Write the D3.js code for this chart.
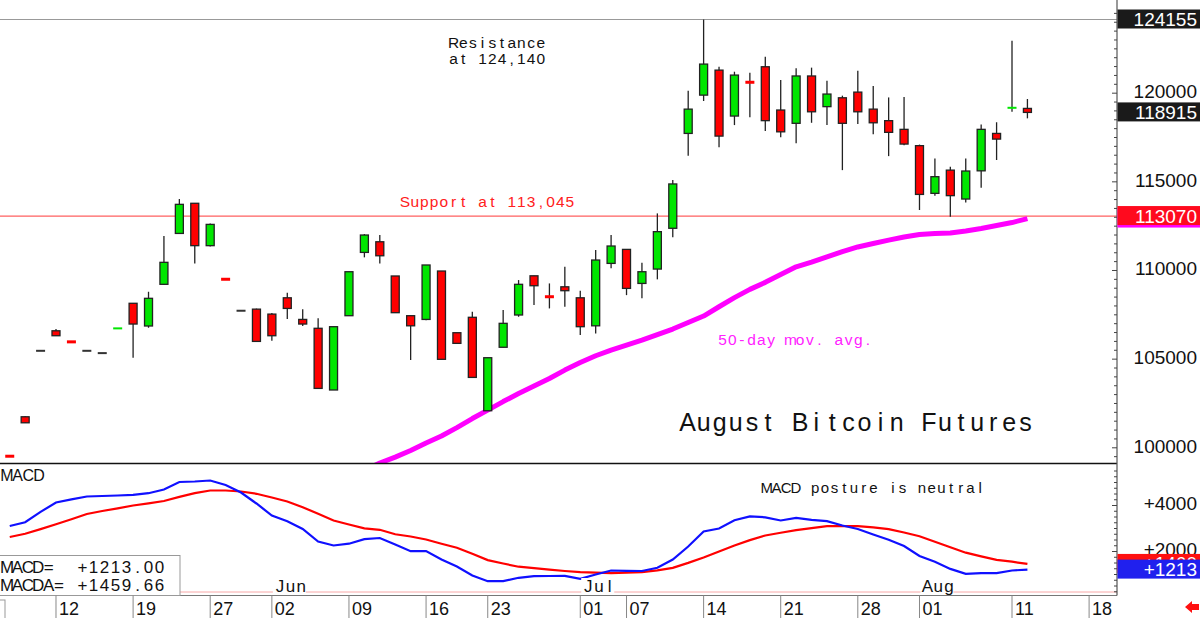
<!DOCTYPE html>
<html>
<head>
<meta charset="utf-8">
<script src="https://cdn.jsdelivr.net/npm/d3@7"></script>
<style>
	body{margin:0;background:#fff;}
	svg{display:block;font-family:"Liberation Sans",Arial,sans-serif;}
</style>
</head>
<body>
<svg id="chart" width="1200" height="618"></svg>
<script>
// trading days shown (2025), one candle each
const dates = [
	'05-07','05-08','05-09','05-12','05-13','05-14','05-15','05-16','05-19','05-20','05-21','05-22','05-23','05-27','05-28','05-29','05-30',
	'06-02','06-03','06-04','06-05','06-06','06-09','06-10','06-11','06-12','06-13','06-16','06-17','06-18','06-20','06-23','06-24','06-25','06-26','06-27','06-30',
	'07-01','07-02','07-03','07-07','07-08','07-09','07-10','07-11','07-14','07-15','07-16','07-17','07-18','07-21','07-22','07-23','07-24','07-25','07-28','07-29','07-30','07-31',
	'08-01','08-04','08-05','08-06','08-07','08-08','08-11','08-12'
];
const futureDates = ['08-13','08-14','08-15','08-18'];

const open = [99550,101750,105470,106600,106000,105470,105340,106720,108150,106870,109220,112090,113790,111400,109530,107730,107820,
	107540,108460,107240,106740,103260,107450,111020,111620,109690,107450,107240,109970,106490,107360,102090,105670,107490,109700,108540,109080,
	108460,106880,110400,111190,109270,110080,112380,117730,119890,121300,118710,120630,121490,119050,118300,120970,119240,119740,120060,119100,118450,117960,
	117040,114350,115660,114030,115620,117730,119160,119140];
const high = [99550,101780,105470,106700,106000,105470,105340,106750,108150,108800,111940,114030,113790,112650,109530,107730,107850,
	107600,108740,107810,107300,106830,109930,112050,112000,109690,107450,110310,109970,106490,107670,105080,107770,109460,109700,109270,110210,
	108860,111150,112000,111190,110440,113220,115100,120140,124155,121490,121210,121150,122050,120740,121400,121440,120700,119860,121270,120400,119760,119780,
	117100,116320,115850,116320,118240,118360,122960,119670];
const low = [99500,101400,105470,106320,105950,105470,105340,106720,105080,106770,109200,112090,110400,111350,109480,107730,106000,
	106040,107260,106870,103350,103260,107450,110740,110400,107620,104950,107200,104990,105890,103970,102090,105670,107390,108050,107860,107950,
	106360,106450,110120,108610,108430,109500,111870,116470,119560,116950,118200,118640,117860,117510,117170,118330,118200,115660,118260,117680,116450,117070,
	113410,114210,113030,113840,114670,116230,118950,118580];
const close = [99500,101410,105470,106320,105950,105470,105340,106750,106980,108430,110460,113730,111400,112600,109480,107730,106000,
	106320,107860,106980,103350,106830,109930,112000,110830,107620,106880,110310,104990,105890,103970,105080,107020,109220,109140,108500,108860,
	106830,110590,111380,108990,109930,112190,114880,119100,121640,117580,121020,120600,118450,117820,120970,118950,119950,118300,118950,118330,117790,117130,
	114290,115290,114220,115610,117960,117410,119190,118915];

// 50-day moving average (earlier values sit below the panel)
const ma50 = [null,null,null,null,null,null,null,null,null,null,null,null,null,null,null,null,null,
	null,null,null,null,null,null,98744,99139,99477,99844,100267,100662,101141,101649,102128,102607,103059,103482,103905,104384,
	104807,105191,105512,105794,106076,106387,106697,107063,107430,107955,108468,108936,109331,109771,110205,110476,110769,111062,111327,111519,111711,111891,
	112027,112083,112111,112224,112365,112534,112703,112929];

const macd = [3109,3274,3722,4130,4265,4391,4413,4435,4465,4535,4696,5022,5043,5087,4891,4565,4087,
	3565,3317,2978,2435,2261,2339,2535,2587,2304,2013,2022,1652,1348,957,709,709,857,926,935,943,
	813,1000,1174,1157,1152,1291,1652,2217,2870,3000,3357,3530,3487,3348,3465,3374,3317,3130,2978,2739,2513,2239,
	1804,1552,1243,1030,1057,1057,1174,1213.00];
const macdSignal = [2630,2770,2974,3187,3404,3630,3761,3878,4000,4096,4196,4374,4535,4652,4652,4609,4509,
	4348,4174,3926,3639,3348,3174,3009,2943,2748,2652,2522,2335,2161,1900,1626,1478,1339,1274,1209,1152,
	1100,1078,1057,1078,1104,1183,1287,1504,1739,2000,2261,2496,2696,2817,2930,3017,3100,3100,3100,3052,2974,2826,
	2661,2426,2183,1948,1791,1635,1557,1459.66];

const resistanceLevel = 124155;
const supportLevel = 113070;
const tickDates = ['05-12','05-19','05-27','06-02','06-09','06-16','06-23','07-01','07-07','07-14','07-21','07-28','08-01','08-11','08-18'];
const monthNames = ['Jun','Jul','Aug'];
const monthStarts = ['06-02','07-01','08-01'];
const priceTicks = [100000,105000,110000,115000,120000];
const macdTicks = [2000,4000];

const axisX = 1117, mainBottom = 463, macdTop = 464, macdBottom = 595.5;
const allDays = dates.concat(futureDates);
const x = d3.scaleLinear().domain([0, 70]).range([9.74, 1089.1]);
const yPrice = d3.scaleLinear().domain([100000, 124155]).range([447.8, 19.5]);
const yMacd = d3.scaleLinear().domain([0, 4000]).range([597.5, 505.5]);
const dayX = d=>x(allDays.indexOf(d));

const svg = d3.select('#chart');

function _monoText(parent, str, x0, y, pitch, size, fill){
	// fixed-pitch lettering, each glyph centred in its cell
	const chars = [...str].map((c, i)=>({c, x: x0 + i*pitch})).filter(d=>d.c !== ' ');
	return parent.append('text')
		.attr('x', chars.map(d=>d.x.toFixed(1)).join(' '))
		.attr('y', y)
		.attr('text-anchor', 'middle')
		.attr('font-size', size)
		.attr('fill', fill)
		.text(chars.map(d=>d.c).join(''));
}

function _setupClips(){
	const defs = svg.append('defs');
	defs.append('clipPath').attr('id', 'clipMain')
		.append('rect').attr('x', 0).attr('y', 0).attr('width', axisX).attr('height', mainBottom);
	defs.append('clipPath').attr('id', 'clipMacd')
		.append('rect').attr('x', 0).attr('y', macdTop).attr('width', axisX).attr('height', macdBottom - macdTop);
}

function _renderLevels(g){
	g.append('line')
		.attr('x1', 0).attr('x2', axisX)
		.attr('y1', yPrice(resistanceLevel)).attr('y2', yPrice(resistanceLevel))
		.attr('stroke', '#999').attr('stroke-width', 1.2);
	g.append('line')
		.attr('x1', 0).attr('x2', axisX)
		.attr('y1', yPrice(supportLevel)).attr('y2', yPrice(supportLevel))
		.attr('stroke', '#ff6060').attr('stroke-width', 1.2);
}

function _renderMovingAverage(g){
	const line = d3.line()
		.defined(d=>d.v != null)
		.x(d=>x(d.i))
		.y(d=>yPrice(d.v));
	g.append('path')
		.datum(ma50.map((v, i)=>({v, i})))
		.attr('fill', 'none')
		.attr('stroke', '#ff00ff')
		.attr('stroke-width', 5)
		.attr('stroke-linejoin', 'round')
		.attr('d', line);
}

function _renderCandles(g){
	const data = dates.map((d, i)=>({i, o: open[i], h: high[i], l: low[i], c: close[i]}));
	const isDash = d=>Math.abs(d.o - d.c) < 120;
	const color = d=>d.c > d.o ? '#00e600' : d.c < d.o ? '#ff0000' : '#333';

	g.selectAll('line.wick')
		.data(data.filter(d=>d.h > d.l))
		.join('line')
			.attr('class', 'wick')
			.attr('x1', d=>x(d.i)).attr('x2', d=>x(d.i))
			.attr('y1', d=>yPrice(d.h)).attr('y2', d=>yPrice(d.l))
			.attr('stroke', '#222')
			.attr('stroke-width', 1.3);

	g.selectAll('rect.body')
		.data(data.filter(d=>!isDash(d)))
		.join('rect')
			.attr('class', 'body')
			.attr('x', d=>x(d.i) - 4)
			.attr('width', 8)
			.attr('y', d=>yPrice(Math.max(d.o, d.c)))
			.attr('height', d=>yPrice(Math.min(d.o, d.c)) - yPrice(Math.max(d.o, d.c)))
			.attr('fill', color)
			.attr('stroke', '#222')
			.attr('stroke-width', 1.3);

	g.selectAll('rect.dash')
		.data(data.filter(isDash))
		.join('rect')
			.attr('class', 'dash')
			.attr('x', d=>x(d.i) - 4.5)
			.attr('width', 9)
			.attr('y', d=>yPrice((d.o + d.c)/2) - (d.c < d.o ? 1.5 : 1))
			.attr('height', d=>d.c < d.o ? 3 : 2)
			.attr('fill', color);
}

function _renderMacd(g){
	g.append('line')
		.attr('x1', 0).attr('x2', axisX)
		.attr('y1', macdBottom - 3.5).attr('y2', macdBottom - 3.5)
		.attr('stroke', '#f8a8a8').attr('stroke-width', 1);

	const line = d3.line().x((d, i)=>x(i)).y(d=>yMacd(d));
	g.append('path').datum(macdSignal)
		.attr('fill', 'none').attr('stroke', '#ff0000').attr('stroke-width', 2.2)
		.attr('d', line);
	g.append('path').datum(macd)
		.attr('fill', 'none').attr('stroke', '#1010ff').attr('stroke-width', 2.2)
		.attr('d', line);
}

function _renderPanelFrames(){
	svg.append('line')
		.attr('x1', 0).attr('x2', axisX)
		.attr('y1', mainBottom + 0.5).attr('y2', mainBottom + 0.5)
		.attr('stroke', '#111').attr('stroke-width', 1.5);
	svg.append('line')
		.attr('x1', 0).attr('x2', axisX)
		.attr('y1', macdBottom).attr('y2', macdBottom)
		.attr('stroke', '#777').attr('stroke-width', 1);
	svg.append('line')
		.attr('x1', axisX).attr('x2', axisX)
		.attr('y1', 0).attr('y2', macdBottom)
		.attr('stroke', '#555').attr('stroke-width', 1.2);
}

function _renderRightAxis(){
	const g = svg.append('g').attr('class', 'axis');
	const priceMinor = d3.range(99000, 125000, 500).filter(v=>yPrice(v) > 0 && yPrice(v) < mainBottom - 2);
	g.selectAll('line.pt')
		.data(priceMinor)
		.join('line')
			.attr('class', 'pt')
			.attr('x1', v=>axisX - (v % 5000 === 0 ? 5 : 3)).attr('x2', axisX)
			.attr('y1', v=>yPrice(v)).attr('y2', v=>yPrice(v))
			.attr('stroke', '#444');
	const macdMinor = d3.range(0, 6000, 250).filter(v=>yMacd(v) > macdTop + 3 && yMacd(v) < macdBottom - 1);
	g.selectAll('line.mt')
		.data(macdMinor)
		.join('line')
			.attr('class', 'mt')
			.attr('x1', v=>axisX - (v % 2000 === 0 ? 5 : 3)).attr('x2', axisX)
			.attr('y1', v=>yMacd(v)).attr('y2', v=>yMacd(v))
			.attr('stroke', '#444');

	g.selectAll('text.pl')
		.data(priceTicks)
		.join('text')
			.attr('class', 'pl')
			.attr('x', 1197).attr('y', v=>yPrice(v) + 5)
			.attr('text-anchor', 'end')
			.attr('font-size', 19)
			.attr('fill', '#111')
			.text(v=>v);
	g.selectAll('text.ml')
		.data(macdTicks)
		.join('text')
			.attr('class', 'ml')
			.attr('x', 1197).attr('y', v=>yMacd(v) + 4)
			.attr('text-anchor', 'end')
			.attr('font-size', 19)
			.attr('fill', '#111')
			.text(v=>`+${v}`);
}

function _valueBox(y, label, fill){
	const g = svg.append('g');
	g.append('rect')
		.attr('x', axisX + 0.5).attr('y', y - 10)
		.attr('width', 1200 - axisX).attr('height', 19)
		.attr('fill', fill);
	if(label == null) return;
	g.append('text')
		.attr('x', 1197).attr('y', y + 6.5)
		.attr('text-anchor', 'end')
		.attr('font-size', 19)
		.attr('fill', '#fff')
		.text(label);
}

function _renderValueBoxes(){
	const last = dates.length - 1;
	_valueBox(yPrice(resistanceLevel), resistanceLevel, '#1a1a1a');
	// moving-average tag is hidden under the support tag, only its edge shows
	_valueBox(yPrice(ma50[last]), null, '#ff00ff');
	_valueBox(yPrice(supportLevel), supportLevel, '#ff0a1e');
	_valueBox(yPrice(close[last]), close[last], '#1a1a1a');
	_valueBox(yMacd(macdSignal[last]), `+${Math.round(macdSignal[last])}`, '#ff1010');
	_valueBox(yMacd(macd[last]), `+${Math.round(macd[last])}`, '#2020ee');
}

function _renderDateAxis(){
	const g = svg.append('g').attr('class', 'dates');
	g.append('rect')
		.attr('x', -1).attr('y', 600).attr('width', 6).attr('height', 20)
		.attr('fill', '#fff').attr('stroke', '#999');
	g.selectAll('line')
		.data(tickDates)
		.join('line')
			.attr('x1', d=>dayX(d)).attr('x2', d=>dayX(d))
			.attr('y1', macdBottom).attr('y2', 618)
			.attr('stroke', '#888');
	g.selectAll('text')
		.data(tickDates)
		.join('text')
			.attr('x', d=>dayX(d) + 3)
			.attr('y', 615)
			.attr('font-size', 18)
			.attr('fill', '#111')
			.text(d=>d.slice(3));

	monthNames.forEach((m, i)=>{
		const mx = dayX(monthStarts[i]);
		svg.append('rect')
			.attr('x', mx + 1).attr('y', 578).attr('width', 33).attr('height', 15)
			.attr('fill', '#fff');
		_monoText(svg, m, mx + 8, 592, 10.7, 17, '#111');
	});

	// scroll arrow, bottom right
	svg.append('path')
		.attr('d', 'M1185,607 L1192,601 L1192,604 L1199,604 L1199,610 L1192,610 L1192,613 Z')
		.attr('fill', '#ff1010');
}

function _renderLegend(){
	const last = dates.length - 1;
	svg.append('rect')
		.attr('x', -1).attr('y', 555.5).attr('width', 181).attr('height', 40)
		.attr('fill', '#fff').attr('stroke', '#999');
	_monoText(svg, 'MACD=', 7, 573, 10.4, 17, '#111');
	_monoText(svg, 'MACDA=', 7, 591, 10.4, 17, '#111');
	_monoText(svg, `+${macd[last].toFixed(2)}`, 82.5, 573, 11, 17, '#111');
	_monoText(svg, `+${macdSignal[last].toFixed(2)}`, 82.5, 591, 11, 17, '#111');
}

function _renderAnnotations(){
	_monoText(svg, 'Resistance', 453.5, 47.5, 9.7, 15.5, '#111');
	_monoText(svg, 'at 124,140', 453.5, 64, 9.7, 15.5, '#111');
	_monoText(svg, 'Support at 113,045', 405, 206.5, 9.7, 15.5, '#ff2020');
	_monoText(svg, '50-day mov. avg.', 722.5, 344.5, 9.7, 15.5, '#ff22ff');
	_monoText(svg, 'August Bitcoin Futures', 687.5, 430.5, 16.09, 25, '#111');
	_monoText(svg, 'MACD', 7, 481, 10.7, 16, '#111');
	_monoText(svg, 'MACD posture is neutral', 766.7, 493.3, 9.7, 15, '#111');
}

function _render(){
	_setupClips();
	const main = svg.append('g').attr('clip-path', 'url(#clipMain)');
	_renderLevels(main);
	_renderAnnotations();
	_renderMovingAverage(main);
	_renderCandles(main);
	_renderMacd(svg.append('g').attr('clip-path', 'url(#clipMacd)'));
	_renderPanelFrames();
	_renderRightAxis();
	_renderValueBoxes();
	_renderLegend();
	_renderDateAxis();
}

_render();
</script>
</body>
</html>
